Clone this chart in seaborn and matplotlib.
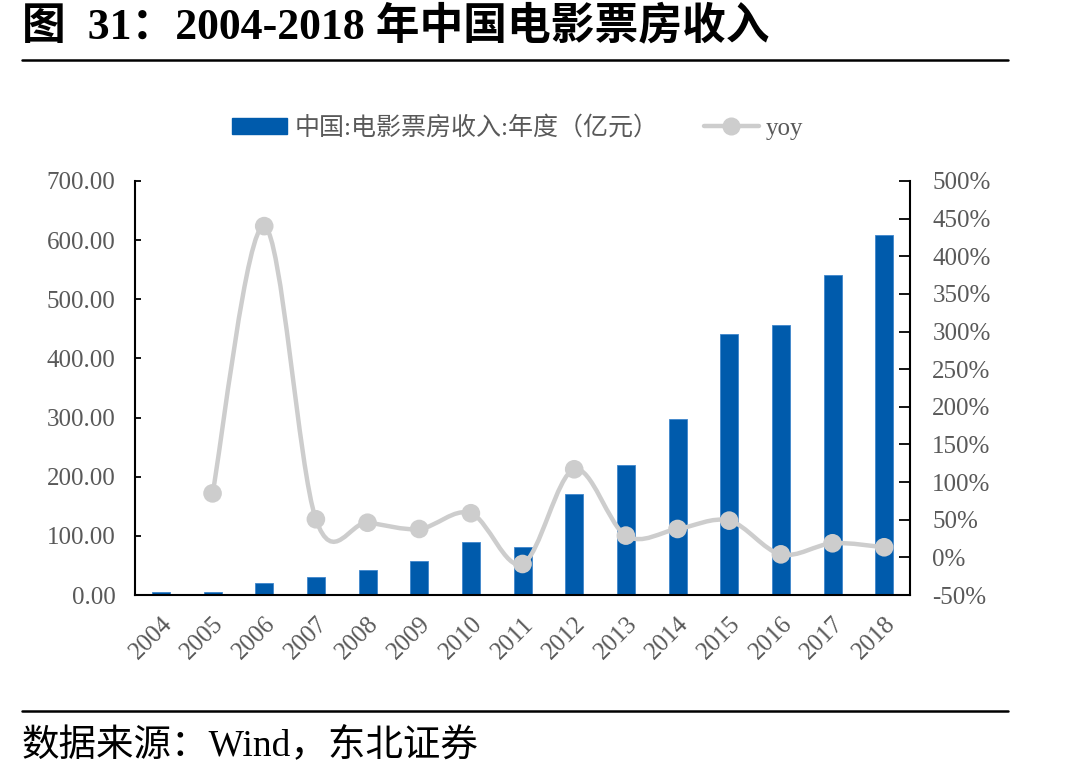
import numpy as np
import pandas as pd
import matplotlib
matplotlib.use("Agg")
import matplotlib.pyplot as plt
from matplotlib.path import Path
from matplotlib.patches import PathPatch, Patch
from matplotlib.lines import Line2D
import seaborn as sns

# ---- data ----
years = ["2004", "2005", "2006", "2007", "2008", "2009", "2010", "2011",
         "2012", "2013", "2014", "2015", "2016", "2017", "2018"]
box_office = [4.5, 4.5, 19.8, 30.0, 41.8, 57.0, 89.0, 80.5,
              170.0, 219.0, 298.0, 442.0, 457.0, 541.0, 609.0]
yoy = [np.nan, 85.0, 440.0, 50.6, 46.0, 37.7, 58.6, -8.8,
       117.0, 28.9, 37.7, 48.8, 4.0, 18.7, 13.4]
left_ticks = [0, 100, 200, 300, 400, 500, 600, 700]
right_ticks = [-50, 0, 50, 100, 150, 200, 250, 300, 350, 400, 450, 500]

bar_label = "中国:电影票房收入:年度（亿元）"
line_label = "yoy"
title = "图  31：2004-2018 年中国电影票房收入"
source = "数据来源：Wind，东北证券"

BLUE = "#005bac"
GRAY = "#cdcdcd"
TXT = "#595959"

sns.set_theme(style="white")
plt.rcParams["font.family"] = ["Liberation Serif", "Noto Sans CJK SC", "DejaVu Sans"]

fig = plt.figure(figsize=(10.9, 7.79), dpi=100)
ax = fig.add_axes([0.1239, 0.2362, 0.8349 - 0.1239, 0.7677 - 0.2362])

df = pd.DataFrame({"year": years, "value": box_office, "yoy": yoy})
sns.barplot(data=df, x="year", y="value", color=BLUE, width=0.35,
            saturation=1, ax=ax, edgecolor="#3f86cc", linewidth=0.6)
ax.set_xlim(-0.5, len(years) - 0.5)
ax.set_ylim(0, 700)
ax.set_yticks(left_ticks)
ax.set_yticklabels([f"{v:.2f}" for v in left_ticks])
ax.set_xlabel("")
ax.set_ylabel("")

ax2 = ax.twinx()
ax2.set_ylim(-50, 500)
ax2.set_yticks(right_ticks)
ax2.set_yticklabels([f"{v}%" for v in right_ticks])

# smoothed yoy curve (Catmull-Rom -> cubic Bezier)
xs = [i for i, v in enumerate(yoy) if not np.isnan(v)]
ys = [v for v in yoy if not np.isnan(v)]
pts = np.column_stack([xs, ys]).astype(float)
verts = [tuple(pts[0])]
codes = [Path.MOVETO]
n = len(pts)
for i in range(n - 1):
    p0 = pts[i - 1] if i > 0 else pts[i]
    p1 = pts[i]
    p2 = pts[i + 1]
    p3 = pts[i + 2] if i + 2 < n else pts[i + 1]
    c1 = p1 + (p2 - p0) / 6.0
    c2 = p2 - (p3 - p1) / 6.0
    verts += [tuple(c1), tuple(c2), tuple(p2)]
    codes += [Path.CURVE4] * 3
ax2.add_patch(PathPatch(Path(verts, codes), facecolor="none", edgecolor=GRAY,
                        lw=3.2, capstyle="round", joinstyle="round", zorder=3))
sns.scatterplot(x=xs, y=ys, ax=ax2, color=GRAY, s=180, edgecolor="none",
                zorder=4, legend=False)
ax2.set_xlim(-0.5, len(years) - 0.5)

# styling
for a in (ax, ax2):
    a.spines["top"].set_visible(False)
    for s in ["left", "right", "bottom"]:
        a.spines[s].set_color("black")
        a.spines[s].set_linewidth(1.5)
ax.spines["right"].set_visible(False)
ax2.spines["left"].set_visible(False)
ax2.spines["bottom"].set_visible(False)

ax.tick_params(axis="y", direction="in", length=4, width=1.3, color="black",
               labelsize=18, labelcolor=TXT, pad=14, left=True)
ax.tick_params(axis="x", length=0, labelsize=18, labelcolor=TXT, pad=13)
for lbl in ax.get_xticklabels():
    lbl.set_rotation(45)
    lbl.set_ha("right")
    lbl.set_rotation_mode("anchor")
ax2.tick_params(axis="y", direction="in", length=8, width=1.3, color="black",
                labelsize=18, labelcolor=TXT, pad=16, right=True)

# legend
handles = [Patch(facecolor=BLUE, edgecolor=BLUE, label=bar_label),
           Line2D([0], [0], color=GRAY, lw=3.2, marker="o", markersize=12,
                  markeredgecolor=GRAY, label=line_label)]
leg = fig.legend(handles=handles, loc="center", bbox_to_anchor=(0.475, 0.836),
                 ncol=2, frameon=False, fontsize=18, handlelength=2.2,
                 handleheight=0.6, columnspacing=1.8, handletextpad=0.3)
for t in leg.get_texts():
    t.set_color(TXT)
    t.set_family(["Liberation Serif", "Noto Sans CJK SC"])

# title, rules and source
fig.text(0.02, 0.966, title, fontsize=31.5, fontweight="bold", color="black",
         va="center", ha="left",
         family=["Liberation Serif", "Noto Sans CJK SC"])
fig.add_artist(Line2D([0.0202, 0.925], [0.923, 0.923], color="black", lw=1.8))
fig.add_artist(Line2D([0.0202, 0.925], [0.0873, 0.0873], color="black", lw=1.8))
fig.text(0.02, 0.0436, source, fontsize=27, color="black", va="center",
         ha="left", family=["Liberation Serif", "Noto Sans CJK SC"])

fig.savefig("out.png", dpi=100)
